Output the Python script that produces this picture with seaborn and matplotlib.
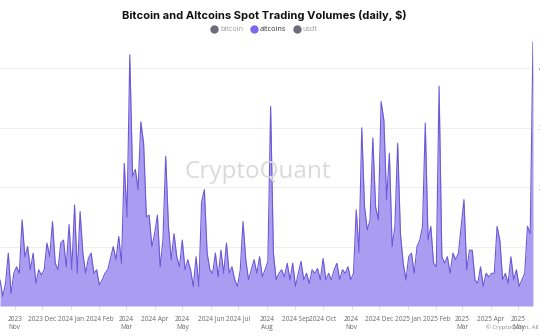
import numpy as np
import pandas as pd
import matplotlib
matplotlib.use("Agg")
import matplotlib.pyplot as plt
import matplotlib.dates as mdates
from matplotlib.lines import Line2D
import seaborn as sns

# ---- data (altcoins spot volume, read every 3 days, arbitrary units) ----
start_date = "2023-10-16"
step = "3D"
altcoins = [
    0.44,0.16,0.38,0.89,0.21,0.55,0.66,0.55,1.45,0.83,1.0,0.61,0.89,0.38,0.61,0.52,0.61,1.06,0.83,1.42,0.72,0.61,1.06,1.11,0.66,1.37,0.61,1.7,0.55,1.59,0.89,0.55,0.8,
    0.89,0.55,0.61,0.35,0.44,0.55,0.61,0.8,1.0,0.78,1.17,0.72,2.4,1.5,4.23,2.18,2.3,1.96,3.1,2.74,1.5,1.53,1.0,1.22,1.53,0.66,1.11,2.52,1.34,0.78,1.22,0.83,0.66,
    1.11,0.61,0.78,0.61,0.33,0.83,0.33,1.75,1.96,0.89,0.61,0.55,0.89,0.49,0.94,0.55,1.06,0.55,0.66,0.44,0.33,0.61,1.42,0.78,0.44,0.61,0.78,0.55,0.83,0.49,0.61,0.75,
    3.36,0.89,0.44,0.55,0.61,0.49,0.72,0.44,0.72,0.33,0.55,0.75,0.44,0.55,0.38,0.61,0.55,0.63,0.44,0.8,0.44,0.55,0.44,0.61,0.72,0.44,0.61,0.55,0.66,0.44,0.55,1.62,0.9,
    3.0,1.67,1.28,1.45,2.83,1.67,1.45,3.44,3.13,1.79,2.57,1.0,1.34,2.74,1.22,0.72,0.44,0.83,0.89,0.55,1.0,1.11,1.34,3.08,1.11,1.34,0.72,0.66,3.7,0.83,0.72,0.83,0.55,
    0.89,0.78,0.89,1.34,1.79,0.61,0.94,0.94,0.44,0.38,0.66,0.33,0.55,0.49,0.55,0.55,1.34,1.11,0.44,0.55,0.38,0.83,0.44,0.61,0.33,0.44,0.55,1.34,1.22,4.45,
]
month_ticks = ["2023-11-01","2023-12-01","2024-01-01","2024-02-01","2024-03-01","2024-04-01",
               "2024-05-01","2024-06-01","2024-07-01","2024-08-01","2024-09-01","2024-10-01",
               "2024-11-01","2024-12-01","2025-01-01","2025-02-01","2025-03-01","2025-04-01","2025-05-01"]
month_labels = ["2023\nNov","2023 Dec","2024 Jan","2024 Feb","2024\nMar","2024 Apr",
                "2024\nMay","2024 Jun","2024 Jul","2024\nAug","2024 Sep","2024 Oct",
                "2024\nNov","2024 Dec","2025 Jan","2025 Feb","2025\nMar","2025 Apr","2025\nMay"]
y_ticks = [1, 2, 3, 4]
y_labels = ["10B", "20B", "30B", "40B"]
legend_names = ["bitcoin", "altcoins", "usdt"]

dates = pd.date_range(start_date, periods=len(altcoins), freq=step)
df = pd.DataFrame({"date": dates, "altcoins": altcoins})

sns.set_theme(style="white")
plt.rcParams["font.family"] = ["Open Sans", "DejaVu Sans"]

fig = plt.figure(figsize=(5.4, 3.36), dpi=100)
ax = fig.add_axes([0.0, 0.0893, 0.987, 0.792])

fill_c = "#aa9df1"
line_c = "#6c58d8"
ax.fill_between(df["date"], 0, df["altcoins"], color=fill_c, linewidth=0, zorder=2)
sns.lineplot(data=df, x="date", y="altcoins", ax=ax, color=line_c, linewidth=0.8, zorder=3)

ax.set_xlim(dates[0], dates[-1])
ax.set_ylim(0, 4.48)
ax.set_xlabel("")
ax.set_ylabel("")

ax.set_xticks(pd.to_datetime(month_ticks))
ax.set_xticklabels(month_labels, fontsize=4.7, color="#666666", linespacing=1.3, va="top")
ax.tick_params(axis="x", length=3, width=0.6, color="#dddddd", pad=4, bottom=True)

ax.yaxis.tick_right()
ax.set_yticks(y_ticks)
ax.set_yticklabels(y_labels, fontsize=5.5, color="#444444")
ax.tick_params(axis="y", length=0, pad=4)
ax.grid(axis="y", color="#efefef", linewidth=0.7, zorder=0)
ax.grid(axis="x", visible=False)
for s in ax.spines.values():
    s.set_visible(False)

fig.text(0.489, 0.955, "Bitcoin and Altcoins Spot Trading Volumes (daily, $)",
         ha="center", va="center", fontsize=8.0, fontweight="bold", color="#111111",
         family=["Inter", "DejaVu Sans"])

handles = [Line2D([], [], marker="o", linestyle="none", markersize=5, color=c)
           for c in ["#6e6c7c", "#7b68ee", "#6e6c7c"]]
leg = fig.legend(handles, legend_names, loc="center", bbox_to_anchor=(0.489, 0.912), ncol=3,
                 frameon=False, fontsize=5.2, handletextpad=0.3, columnspacing=1.0,
                 handlelength=1.0)
for t, c in zip(leg.get_texts(), ["#999999", "#333333", "#999999"]):
    t.set_color(c)

fig.text(0.478, 0.488, "CryptoQuant", ha="center", va="center", fontsize=17.5,
         color="#dadada", zorder=1)
fig.text(0.9, 0.027, "© CryptoQuant. All rights reserved", ha="left", va="center",
         fontsize=4.3, color="#888888")

fig.savefig("out.png", dpi=100)
